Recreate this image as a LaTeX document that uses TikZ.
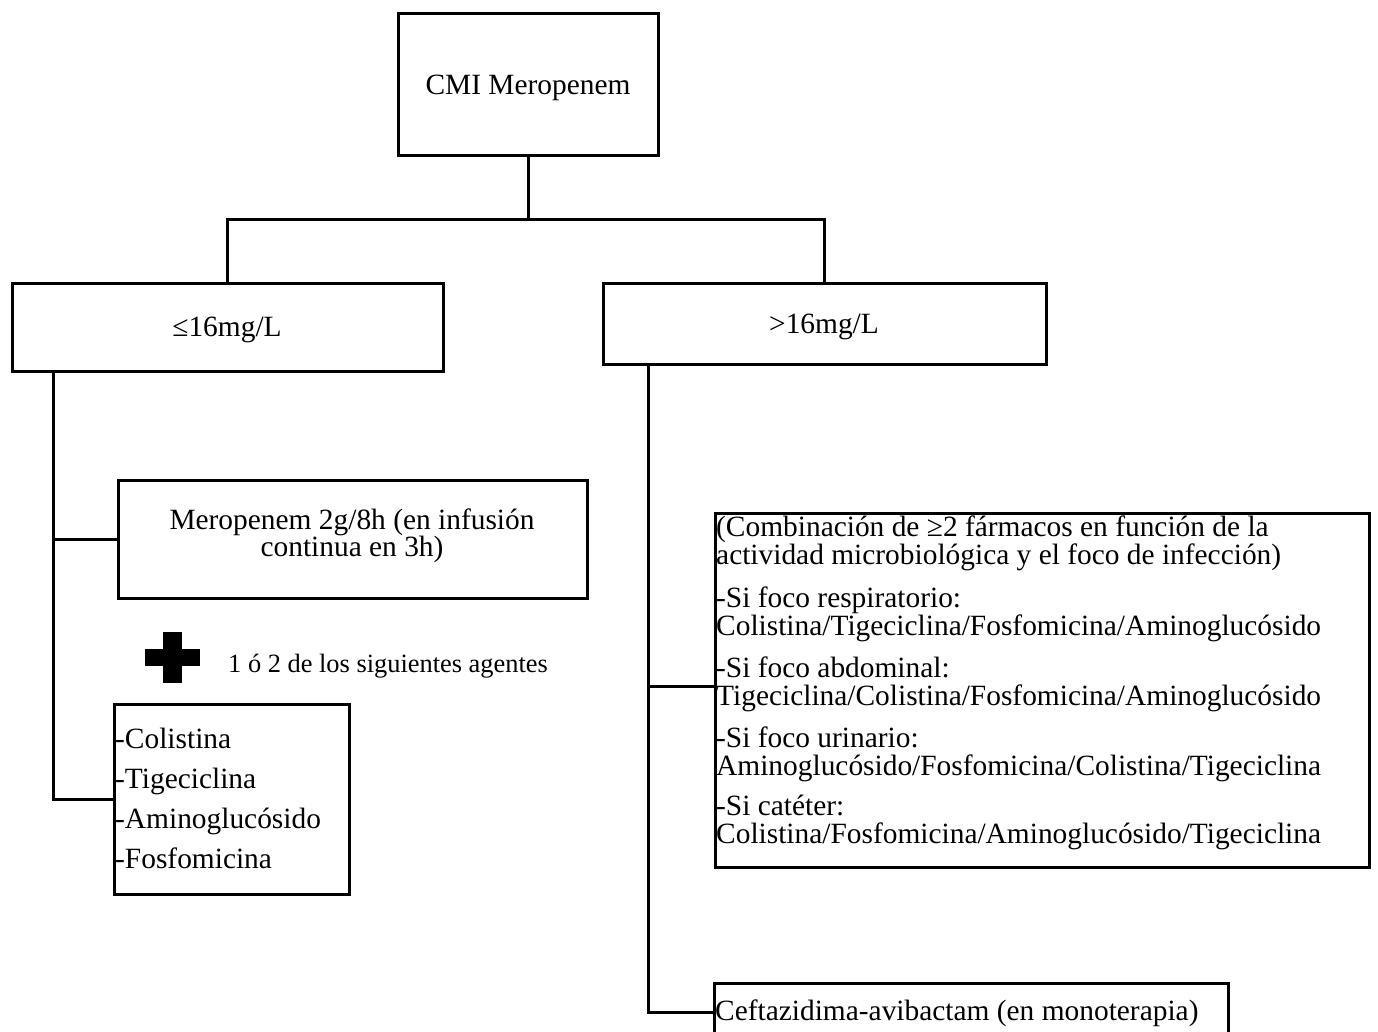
\documentclass[tikz,border=0pt]{standalone}
\usepackage{fontspec}
\setmainfont{Liberation Serif}
\begin{document}
\begin{tikzpicture}[x=1pt,y=-1pt,
  box/.style={draw, line width=3pt, inner sep=0pt, outer sep=0pt, anchor=north west},
  txt/.style={inner sep=0pt, font=\fontsize{29.4}{29.4}\selectfont},
  small/.style={inner sep=0pt, font=\fontsize{26.4}{26.4}\selectfont},
  conn/.style={line width=3pt}]
\useasboundingbox (0,0) rectangle (1378,1031);
\fill[white] (0,0) rectangle (1378,1031);
\clip (0,0) rectangle (1378,1031);

% boxes
\node[box, minimum width=260pt, minimum height=142pt] (top) at (398,13) {};
\node[box, minimum width=431pt, minimum height=88pt] (le) at (12,283) {};
\node[box, minimum width=443pt, minimum height=81pt] (gt) at (603,283) {};
\node[box, minimum width=469pt, minimum height=118pt] (mero) at (118,480) {};
\node[box, minimum width=235pt, minimum height=190pt] (agents) at (114,704) {};
\node[box, minimum width=654pt, minimum height=354pt] (rbox) at (715,513) {};
\node[box, minimum width=514pt, minimum height=58pt] (cav) at (714,983) {};

% texts
\node[txt, anchor=base] (t1) at (528,94) {CMI Meropenem};
\node[txt, anchor=base] (t2) at (227,336) {≤16mg/L};
\node[txt, anchor=base] (t3) at (824,333) {>16mg/L};
\node[txt, anchor=base] (m1) at (352,529) {Meropenem 2g/8h (en infusión};
\node[txt, anchor=base] (m2) at (352,556) {continua en 3h)};
\node[small, anchor=base west] (plus) at (228,672) {1 ó 2 de los siguientes agentes};
\node[txt, anchor=base west] (a1) at (115,748) {-Colistina};
\node[txt, anchor=base west] (a2) at (115,788) {-Tigeciclina};
\node[txt, anchor=base west] (a3) at (115,828) {-Aminoglucósido};
\node[txt, anchor=base west] (a4) at (115,868) {-Fosfomicina};
\node[txt, anchor=base west] (r1) at (716,536) {(Combinación de ≥2 fármacos en función de la};
\node[txt, anchor=base west] (r2) at (716,564) {actividad microbiológica y el foco de infección)};
\node[txt, anchor=base west] (r3) at (716,607) {-Si foco respiratorio:};
\node[txt, anchor=base west] (r4) at (716,635) {Colistina/Tigeciclina/Fosfomicina/Aminoglucósido};
\node[txt, anchor=base west] (r5) at (716,677) {-Si foco abdominal:};
\node[txt, anchor=base west] (r6) at (716,705) {Tigeciclina/Colistina/Fosfomicina/Aminoglucósido};
\node[txt, anchor=base west] (r7) at (716,747) {-Si foco urinario:};
\node[txt, anchor=base west] (r8) at (716,775) {Aminoglucósido/Fosfomicina/Colistina/Tigeciclina};
\node[txt, anchor=base west] (r9) at (716,815) {-Si catéter:};
\node[txt, anchor=base west] (r10) at (716,843) {Colistina/Fosfomicina/Aminoglucósido/Tigeciclina};
\node[txt, anchor=base west] (c1) at (715,1020) {Ceftazidima-avibactam (en monoterapia)};

% plus sign
\fill (145,649) rectangle (200,666);
\fill (163,632) rectangle (182,683);

% connectors
\coordinate (j) at (528,219);
\coordinate (lt) at (53,371);
\coordinate (rt) at (648,364);
\coordinate (rb) at (715,686);
\draw[conn] (top.south) -- (j);
\draw[conn] (le.north) |- (j);
\draw[conn] (j) -| (gt.north);
\draw[conn] (lt) |- (agents.west);
\draw[conn] (mero.west) -- (mero.west -| lt);
\draw[conn] (rt) |- (cav.west);
\draw[conn] (rb -| rt) -- (rb);
\end{tikzpicture}
\end{document}
